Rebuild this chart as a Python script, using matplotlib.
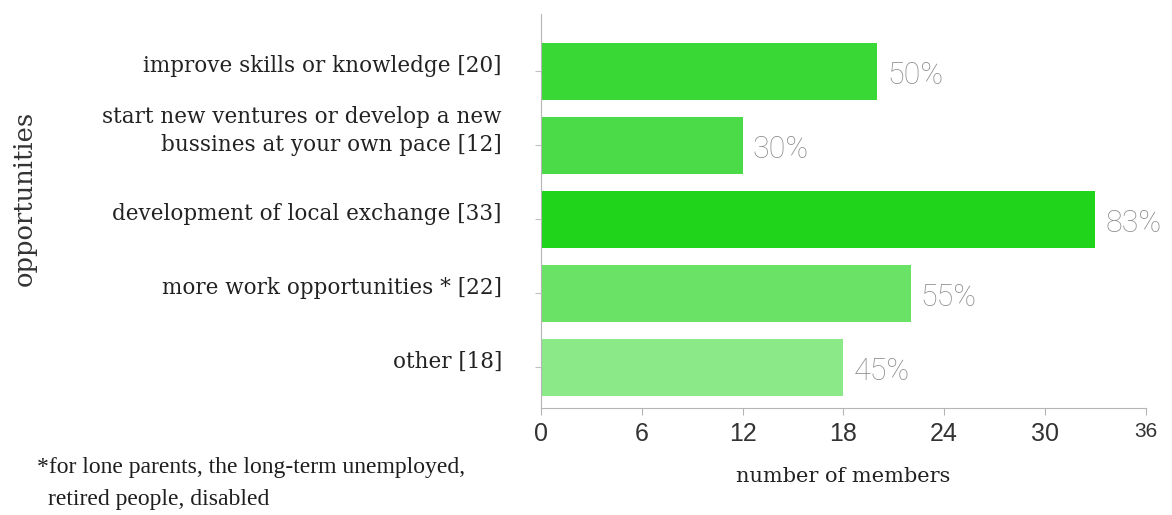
import matplotlib.pyplot as plt
import matplotlib.transforms as mtransforms
import numpy as np

# survey answers, top to bottom
labels = [
    "improve skills or knowledge [20]",
    "start new ventures or develop a new\nbussines at your own pace [12]",
    "development of local exchange [33]",
    "more work opportunities * [22]",
    "other [18]",
]
members = [20, 12, 33, 22, 18]
shares = ["50%", "30%", "83%", "55%", "45%"]
bar_colors = ["#3ad835", "#4cdb48", "#1fd41b", "#6ae266", "#8ce988"]
x_ticks = [0, 6, 12, 18, 24, 30, 36]

fig = plt.figure(figsize=(11.72, 5.15), dpi=100)
ax = fig.add_axes([0.4616, 0.2078, 0.516, 0.765])

y = np.arange(len(labels))
ax.barh(y, members, height=0.77, color=bar_colors, zorder=2)

# percentage of the 40 members, right of each bar
for yi, val, txt in zip(y, members, shares):
    ax.text(val + 0.6, yi + 0.06, txt, va="center", ha="left",
            fontsize=22, color="#8e8e8e", family="Roboto", fontweight="light")

ax.set_xlim(0, 36)
ax.set_ylim(4.55, -0.77)
ax.set_xticks(x_ticks)
ax.set_xticklabels([str(t) for t in x_ticks], fontsize=18, color="#333333",
                   family="Liberation Sans")
ax.set_yticks(y)
ax.set_yticklabels([])

# category names, right-aligned left of the axis; two-line names ride higher
for yi, name in zip(y, labels):
    up = 0.05 + 0.09 * name.count("\n")
    tr = ax.get_yaxis_transform() + mtransforms.ScaledTranslation(
        -0.39, up, fig.dpi_scale_trans)
    ax.text(0, yi, name, transform=tr, ha="right", va="center",
            multialignment="right", fontsize=15.5, family="DejaVu Serif",
            color="#222222", linespacing=1.4)

last = ax.get_xticklabels()[-1]
last.set_fontsize(15)
last.set_transform(last.get_transform()
                   + mtransforms.ScaledTranslation(0.04, -0.04, fig.dpi_scale_trans))

for s in ["top", "right"]:
    ax.spines[s].set_visible(False)
for s in ["left", "bottom"]:
    ax.spines[s].set_color("#b5b5b5")
ax.tick_params(axis="x", length=5, color="#b5b5b5", pad=5)
ax.tick_params(axis="y", length=4, color="#c0c0c0")

ax.set_xlabel("number of members", fontsize=15, family="DejaVu Serif",
              color="#222222", labelpad=15)
fig.text(0.021, 0.614, "opportunities", rotation=90, va="center", ha="center",
         fontsize=18.5, family="DejaVu Serif", color="#333333")

fig.text(37 / 1172, 1 - 468 / 515, "*for lone parents, the long-term unemployed,",
         va="center", ha="left", fontsize=17, family="Liberation Serif",
         color="#1e1e1e")
fig.text(48 / 1172, 1 - 500 / 515, "retired people, disabled",
         va="center", ha="left", fontsize=17, family="Liberation Serif",
         color="#1e1e1e")

fig.savefig("out.png", dpi=100)
